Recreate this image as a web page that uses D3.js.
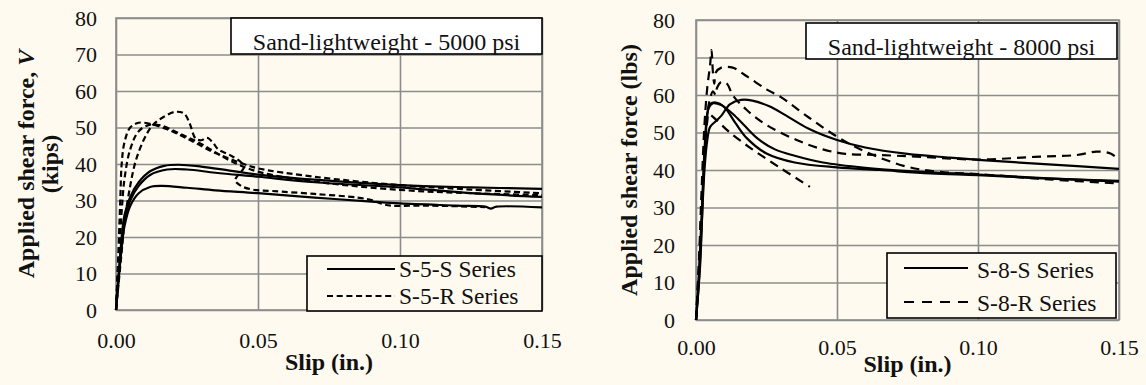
<!DOCTYPE html>
<html>
<head>
<meta charset="utf-8">
<script src="https://cdn.jsdelivr.net/npm/d3@7"></script>
<style>
  body { margin: 0; background: #fefaef; }
  svg { display: block; }
</style>
</head>
<body>
<svg></svg>
<script>
// Tick values shared by both panels
const xTicks = [0, 0.05, 0.10, 0.15];
const yTicks = [0, 10, 20, 30, 40, 50, 60, 70, 80];

// Sand-lightweight 5000 psi : slip (in.), force (kips)
const s5s1 = [[0,0],[0.001,10],[0.002,20],[0.003,26],[0.005,31],[0.008,35],[0.012,38],[0.017,39.5],[0.022,39.8],[0.03,39.3],[0.04,38.2],[0.05,37.1],[0.07,35.7],[0.1,34.2],[0.125,33.6],[0.15,33.2]];
const s5s2 = [[0,0],[0.001,10],[0.002,19],[0.003,25],[0.005,30],[0.008,34],[0.012,37],[0.018,38.5],[0.025,38.5],[0.035,37.6],[0.05,36.5],[0.07,35],[0.1,33.6],[0.125,32],[0.15,31]];
const s5s3 = [[0,0],[0.001,9],[0.002,17],[0.003,23],[0.005,28.5],[0.008,32],[0.012,33.7],[0.016,34],[0.025,33.5],[0.035,32.8],[0.05,32],[0.07,30.8],[0.09,29.7],[0.1,29.2],[0.12,28.6],[0.13,28.3],[0.132,27.8],[0.134,28.3],[0.15,28.1]];
const s5r1 = [[0,0],[0.0008,15],[0.0015,30],[0.002,40],[0.003,46],[0.005,50],[0.008,51.3],[0.012,51],[0.018,49.5],[0.025,47],[0.035,43],[0.045,40],[0.05,38.8],[0.07,36.5],[0.1,34.2],[0.125,33],[0.15,32]];
const s5r2 = [[0,0],[0.001,15],[0.002,27],[0.003,36],[0.005,44],[0.008,49],[0.012,50.8],[0.016,50.5],[0.022,48.5],[0.03,45.5],[0.04,41],[0.05,37.9],[0.07,35.2],[0.1,32.9],[0.125,32],[0.15,31.5]];
const s5r3 = [[0,0],[0.001,8],[0.002,16],[0.003,24],[0.005,34],[0.007,41],[0.01,47],[0.013,50.7],[0.017,53],[0.021,54.3],[0.024,53.8],[0.026,51],[0.028,47],[0.030,46.5],[0.032,47.2],[0.034,46],[0.036,44],[0.04,42.5],[0.044,40.5],[0.045,39],[0.043,37],[0.042,35.5],[0.044,34],[0.048,33],[0.055,32.6],[0.07,31.8],[0.085,30.8],[0.09,30.1],[0.094,29],[0.097,28.6],[0.11,28.6],[0.13,28.2]];

// Sand-lightweight 8000 psi
const s8s1 = [[0,0],[0.001,12],[0.002,28],[0.003,45],[0.004,55],[0.005,57.5],[0.007,58],[0.01,56.8],[0.014,52.5],[0.018,48.5],[0.025,44.4],[0.035,42],[0.05,40.7],[0.065,40],[0.083,39.1],[0.1,38.6],[0.125,37.7],[0.15,37.1]];
const s8s2 = [[0,0],[0.0015,15],[0.0025,35],[0.0035,50],[0.0045,56.5],[0.006,57.8],[0.009,57.3],[0.013,55],[0.017,52],[0.022,48.3],[0.028,45.5],[0.035,43.8],[0.045,42],[0.06,40.6],[0.08,39.5],[0.1,38.8],[0.125,37.8],[0.15,36.9]];
const s8s3 = [[0,0],[0.001,10],[0.002,25],[0.003,40],[0.004,48],[0.005,51.5],[0.007,53],[0.009,54.5],[0.012,57.5],[0.016,58.7],[0.02,58.5],[0.026,57],[0.032,54.5],[0.04,51],[0.05,48],[0.06,46],[0.075,44.3],[0.09,43.3],[0.1,42.7],[0.125,41.5],[0.15,40.3]];
const s8r1 = [[0,0],[0.001,15],[0.002,35],[0.003,52],[0.004,62],[0.005,68],[0.0055,72],[0.006,66],[0.0065,63],[0.007,66],[0.009,67.3],[0.013,67.3],[0.018,65],[0.025,61.5],[0.03,59.5],[0.04,54],[0.05,48.9],[0.06,44.9],[0.0747,40.9],[0.0865,39.5],[0.1,38.9],[0.125,37.5],[0.15,36.4]];
const s8r2 = [[0,0],[0.001,14],[0.002,30],[0.003,45],[0.004,55],[0.005,59],[0.006,61],[0.007,60],[0.0075,62],[0.009,63.5],[0.011,63],[0.013,60],[0.018,56],[0.025,52],[0.0357,48],[0.045,45.5],[0.053,44.3],[0.065,44],[0.08,43.5],[0.1,42.8],[0.12,43.5],[0.135,44],[0.142,44.9],[0.147,44.4],[0.15,42.7]];
const s8r3 = [[0,0],[0.001,12],[0.002,30],[0.003,46],[0.004,53],[0.0045,55],[0.0055,54.5],[0.0073,53.3],[0.012,50],[0.02,45.5],[0.03,40.5],[0.0404,35.5]];

const width = 1146, height = 385;
const gridColor = "#8c8c8c";
const serif = "'Liberation Serif', 'Times New Roman', serif";

const svg = d3.select("svg")
    .attr("width", width)
    .attr("height", height)
    .attr("font-family", serif);

svg.append("rect").attr("width", width).attr("height", height).attr("fill", "#fefaef");

const panels = [
  {
    left: 116, right: 542, top: 18, bottom: 310,
    yPad: 19, xPad: 22,
    title: "Sand-lightweight - 5000 psi",
    titleBox: { x: 231, y: 18, w: 311, h: 36, base: 50 },
    legendBox: { x: 307, y: 256, w: 235, h: 55, l1: 327, l2: 395, tx: 399, rows: [[269, 277], [296, 304]] },
    legend: ["S-5-S Series", "S-5-R Series"],
    dash: "6,3.5", legendDash: "6,3.7",
    solid: [s5s1, s5s2, s5s3], dashed: [s5r1, s5r2, s5r3],
    yTitle: [["Applied shear force, ", "V", 34], ["(kips)", null, 58]],
    xTitleBase: 370
  },
  {
    left: 696, right: 1119, top: 20, bottom: 320,
    yPad: 21, xPad: 19,
    title: "Sand-lightweight - 8000 psi",
    titleBox: { x: 806, y: 23, w: 311, h: 36, base: 55 },
    legendBox: { x: 887, y: 253, w: 229, h: 65, l1: 904, l2: 968, tx: 977, rows: [[268, 278], [302, 311]] },
    legend: ["S-8-S Series", "S-8-R Series"],
    dash: "9,6", legendDash: "10,8",
    solid: [s8s1, s8s2, s8s3], dashed: [s8r1, s8r2, s8r3],
    yTitle: [["Applied shear force (lbs)", null, 637]],
    xTitleBase: 372
  }
];

panels.forEach(p => {
  const x = d3.scaleLinear().domain([0, 0.15]).range([p.left, p.right]);
  const y = d3.scaleLinear().domain([0, 80]).range([p.bottom, p.top]);
  const g = svg.append("g");

  // gridlines + tick labels
  const yAxis = g.append("g")
      .attr("transform", `translate(${p.left},0)`)
      .call(d3.axisLeft(y).tickValues(yTicks).tickSize(-(p.right - p.left)).tickPadding(p.yPad));
  const xAxis = g.append("g")
      .attr("transform", `translate(0,${p.bottom})`)
      .call(d3.axisBottom(x).tickValues(xTicks).tickFormat(d3.format(".2f")).tickSize(-(p.bottom - p.top)).tickPadding(p.xPad));
  [yAxis, xAxis].forEach(a => {
    a.attr("font-family", serif).attr("font-size", 22);
    a.select(".domain").remove();
    a.selectAll("line").attr("stroke", gridColor).attr("stroke-width", 1.6);
    a.selectAll("text").attr("fill", "#111");
  });

  g.append("rect")
      .attr("x", p.left).attr("y", p.top)
      .attr("width", p.right - p.left).attr("height", p.bottom - p.top)
      .attr("fill", "none").attr("stroke", gridColor).attr("stroke-width", 1.6);

  // curves
  const line = d3.line().x(d => x(d[0])).y(d => y(d[1])).curve(d3.curveCatmullRom.alpha(0.5));
  p.solid.forEach(s => g.append("path").attr("d", line(s))
      .attr("fill", "none").attr("stroke", "#000").attr("stroke-width", 2.2));
  p.dashed.forEach(s => g.append("path").attr("d", line(s))
      .attr("fill", "none").attr("stroke", "#000").attr("stroke-width", 2.2)
      .attr("stroke-dasharray", p.dash));

  // title box
  const tb = p.titleBox;
  g.append("rect").attr("x", tb.x).attr("y", tb.y).attr("width", tb.w).attr("height", tb.h)
      .attr("fill", "#fff").attr("stroke", "#000").attr("stroke-width", 1.6);
  g.append("text").attr("x", tb.x + tb.w / 2).attr("y", tb.base)
      .attr("text-anchor", "middle").attr("font-size", 24).attr("fill", "#111").text(p.title);

  // legend
  const lb = p.legendBox;
  g.append("rect").attr("x", lb.x).attr("y", lb.y).attr("width", lb.w).attr("height", lb.h)
      .attr("fill", "#fefaef").attr("stroke", "#000").attr("stroke-width", 1.6);
  p.legend.forEach((name, i) => {
    const [ly, ty] = lb.rows[i];
    g.append("line").attr("x1", lb.l1).attr("x2", lb.l2).attr("y1", ly).attr("y2", ly)
        .attr("stroke", "#000").attr("stroke-width", 2.2)
        .attr("stroke-dasharray", i === 1 ? p.legendDash : null);
    g.append("text").attr("x", lb.tx).attr("y", ty).attr("font-size", 23.5).attr("fill", "#111").text(name);
  });

  // axis titles
  const cy = (p.top + p.bottom) / 2;
  p.yTitle.forEach(([txt, ital, bx]) => {
    const t = g.append("text")
        .attr("transform", `translate(${bx},${cy}) rotate(-90)`)
        .attr("text-anchor", "middle").attr("fill", "#111")
        .attr("font-size", 24).attr("font-weight", "bold");
    t.append("tspan").text(txt);
    if (ital) t.append("tspan").attr("font-style", "italic").text(ital);
  });
  g.append("text").attr("x", (p.left + p.right) / 2).attr("y", p.xTitleBase)
      .attr("text-anchor", "middle").attr("font-size", 24).attr("font-weight", "bold").attr("fill", "#111")
      .text("Slip (in.)");
});
</script>
</body>
</html>
